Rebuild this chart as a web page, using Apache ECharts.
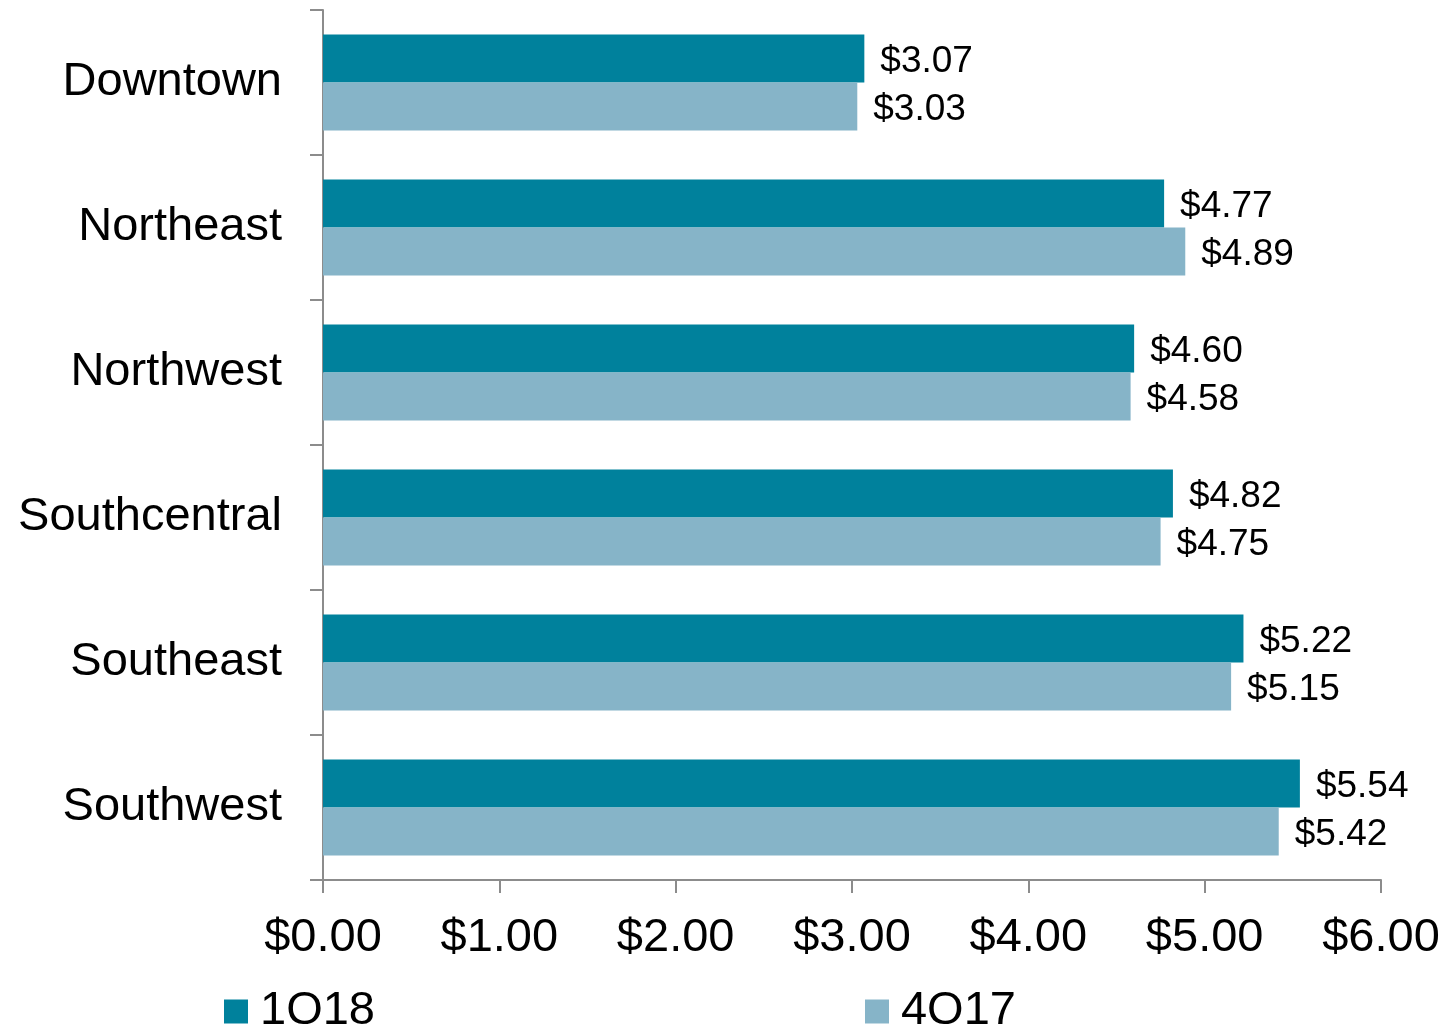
<!DOCTYPE html>
<html>
<head>
<meta charset="utf-8">
<script src="https://cdn.jsdelivr.net/npm/echarts@6/dist/echarts.min.js"></script>
<style>
  html, body { margin: 0; padding: 0; background: #fff; }
  #chart { width: 1450px; height: 1024px; }
</style>
</head>
<body>
<div id="chart"></div>
<script>
// 区域与两个季度的租金数据
const regions = ['Downtown', 'Northeast', 'Northwest', 'Southcentral', 'Southeast', 'Southwest'];
const q1_18 = [3.07, 4.77, 4.60, 4.82, 5.22, 5.54];
const q4_17 = [3.03, 4.89, 4.58, 4.75, 5.15, 5.42];
const seriesNames = ['1Q18', '4Q17'];

const FONT = '"Liberation Sans", Arial, sans-serif';
const AXIS_GRAY = '#8c8c8c';

const chart = echarts.init(document.getElementById('chart'));

const money = v => '$' + Number(v).toFixed(2);

const valueLabel = {
  show: true,
  position: 'right',
  distance: 16,
  offset: [0, 3],
  color: '#000',
  fontSize: 37,
  fontFamily: FONT,
  formatter: p => money(p.value)
};

chart.setOption({
  animation: false,
  grid: { left: 323, right: 69, top: 10, bottom: 144 },
  legend: {
    left: 219,
    top: 983,
    itemWidth: 24,
    itemHeight: 24,
    itemGap: 490,
    icon: 'rect',
    textStyle: { fontSize: 47, color: '#000', fontFamily: FONT, padding: [0, 0, 0, 7] },
    data: seriesNames
  },
  xAxis: {
    type: 'value',
    min: 0,
    max: 6,
    interval: 1,
    axisLine: { show: true, lineStyle: { color: AXIS_GRAY, width: 2 } },
    axisTick: { show: true, length: 13, lineStyle: { color: AXIS_GRAY, width: 2 } },
    splitLine: { show: false },
    axisLabel: { fontSize: 47, color: '#000', fontFamily: FONT, margin: 35, formatter: money }
  },
  yAxis: {
    type: 'category',
    inverse: true,
    data: regions,
    axisLine: { show: true, lineStyle: { color: AXIS_GRAY, width: 2 } },
    axisTick: { show: true, length: 13, lineStyle: { color: AXIS_GRAY, width: 2 } },
    axisLabel: { fontSize: 47, color: '#000', fontFamily: FONT, margin: 41, padding: [9, 0, 0, 0] }
  },
  series: [
    {
      name: seriesNames[0],
      type: 'bar',
      data: q1_18,
      barWidth: 48,
      barGap: '0%',
      itemStyle: { color: '#00819c' },
      label: valueLabel
    },
    {
      name: seriesNames[1],
      type: 'bar',
      data: q4_17,
      barWidth: 48,
      barGap: '0%',
      itemStyle: { color: '#86b4c8' },
      label: valueLabel
    }
  ]
});
</script>
</body>
</html>
